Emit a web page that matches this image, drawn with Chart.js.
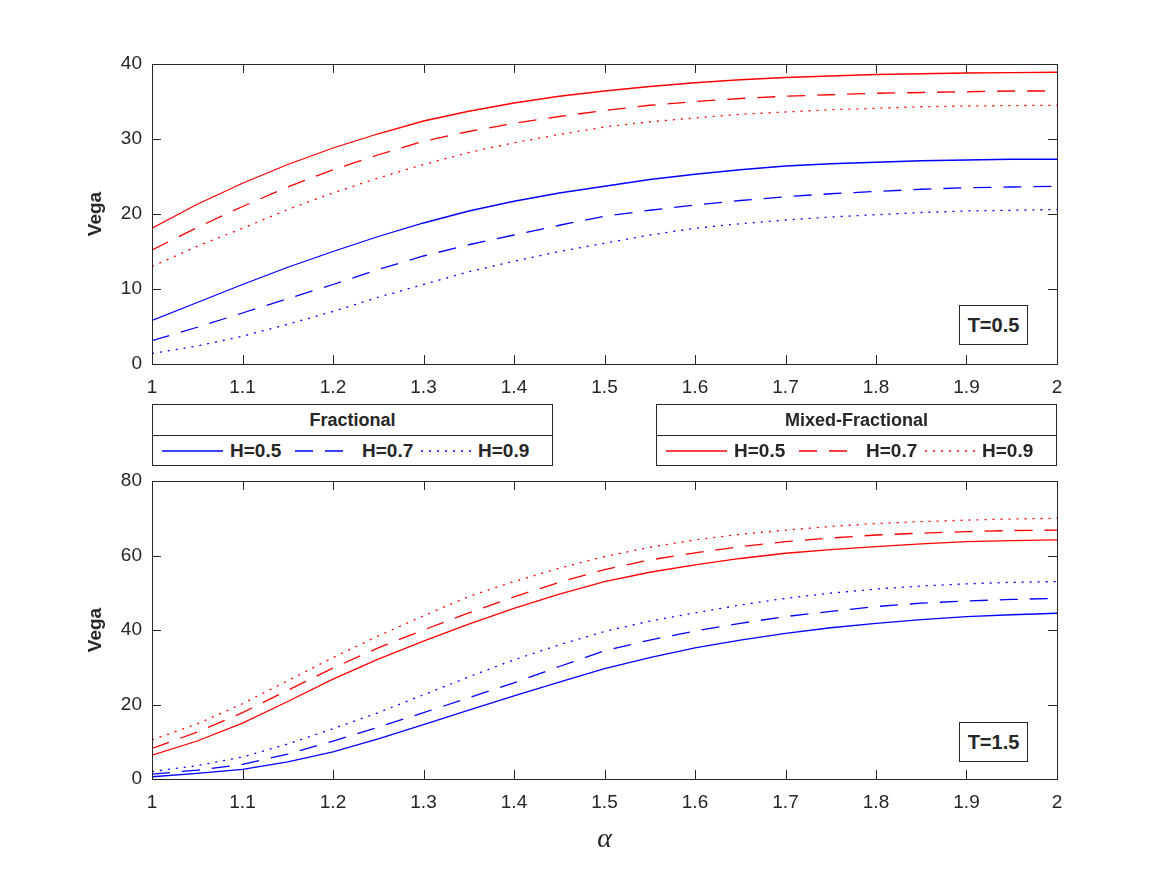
<!DOCTYPE html>
<html>
<head>
<meta charset="utf-8">
<script src="https://cdn.jsdelivr.net/npm/chart.js@4.4.1/dist/chart.umd.min.js"></script>
<style>
    body { margin: 0; background: #fff; }
    #page { position: relative; width: 1167px; height: 875px; font-family: "Liberation Sans", Arial, sans-serif; color: #262626; }
    .plot { position: absolute; left: 0; }
    .legend-box { position: absolute; top: 404px; width: 401px; height: 62px; border: 1px solid #262626; background: #fff; box-sizing: border-box; }
    .legend-title { position: absolute; left: 0; right: 0; top: 0; height: 30px; line-height: 30px; text-align: center; font-weight: bold; font-size: 18px; border-bottom: 1px solid #262626; }
    .legend-item-line { position: absolute; top: 44px; }
    .legend-item-text { position: absolute; top: 32px; line-height: 28px; font-weight: bold; font-size: 19px; }
    .tbox { position: absolute; left: 959px; width: 69px; height: 40px; border: 1px solid #262626; background: #fff; box-sizing: border-box; text-align: center; line-height: 38px; font-weight: bold; font-size: 20px; }
</style>
</head>
<body>
<div id="page">
    <div class="plot" style="top:0"><canvas id="chartTop" width="1167" height="400"></canvas></div>
    <div class="plot" style="top:440px"><canvas id="chartBottom" width="1167" height="435"></canvas></div>
    <div id="legends"></div>
    <div class="tbox" style="top:305px">T=0.5</div>
    <div class="tbox" style="top:722px">T=1.5</div>
</div>
<script>
const ALPHA = [1, 1.05, 1.1, 1.15, 1.2, 1.25, 1.3, 1.35, 1.4, 1.45, 1.5,
               1.55, 1.6, 1.65, 1.7, 1.75, 1.8, 1.85, 1.9, 1.95, 2];
const X_TICKS = [1, 1.1, 1.2, 1.3, 1.4, 1.5, 1.6, 1.7, 1.8, 1.9, 2];
const Y_TICKS_TOP = [0, 10, 20, 30, 40];
const Y_TICKS_BOTTOM = [0, 20, 40, 60, 80];
const H_LABELS = ['H=0.5', 'H=0.7', 'H=0.9'];

// T = 0.5, fractional (blue)
const FRAC_T05_H5 = [5.8, 8.2, 10.6, 12.9, 15.0, 17.0, 18.8, 20.4, 21.7, 22.8, 23.7, 24.6, 25.3, 25.9, 26.4, 26.7, 26.9, 27.1, 27.2, 27.3, 27.3];
const FRAC_T05_H7 = [3.1, 4.9, 6.8, 8.7, 10.6, 12.6, 14.4, 15.9, 17.2, 18.5, 19.7, 20.5, 21.2, 21.8, 22.3, 22.7, 23.0, 23.3, 23.5, 23.6, 23.7];
const FRAC_T05_H9 = [1.4, 2.4, 3.7, 5.3, 7.0, 8.9, 10.6, 12.3, 13.7, 15.0, 16.1, 17.2, 18.1, 18.7, 19.2, 19.6, 19.9, 20.2, 20.4, 20.5, 20.6];
// T = 0.5, mixed-fractional (red)
const MIXED_T05_H5 = [18.1, 21.3, 24.1, 26.6, 28.8, 30.7, 32.4, 33.7, 34.8, 35.7, 36.4, 37.0, 37.5, 37.9, 38.2, 38.4, 38.6, 38.7, 38.8, 38.85, 38.9];
const MIXED_T05_H7 = [15.2, 18.2, 21.0, 23.6, 25.9, 27.9, 29.7, 31.0, 32.1, 33.0, 33.8, 34.5, 35.0, 35.4, 35.7, 35.9, 36.1, 36.2, 36.3, 36.4, 36.4];
const MIXED_T05_H9 = [13.0, 15.7, 18.1, 20.6, 22.8, 24.8, 26.6, 28.2, 29.5, 30.6, 31.6, 32.3, 32.8, 33.3, 33.6, 33.9, 34.1, 34.3, 34.4, 34.45, 34.5];

// T = 1.5, fractional (blue)
const FRAC_T15_H5 = [0.6, 1.5, 2.6, 4.6, 7.3, 10.8, 14.6, 18.5, 22.3, 26.0, 29.6, 32.6, 35.2, 37.3, 39.1, 40.6, 41.8, 42.8, 43.6, 44.1, 44.5];
const FRAC_T15_H7 = [1.3, 2.4, 3.9, 6.7, 10.2, 13.9, 17.8, 21.8, 25.8, 30.2, 34.4, 37.3, 39.7, 41.8, 43.6, 45.0, 46.3, 47.2, 47.8, 48.2, 48.5];
const FRAC_T15_H9 = [2.0, 3.6, 5.9, 9.4, 13.5, 17.8, 22.6, 27.4, 32.0, 36.0, 39.6, 42.4, 44.6, 46.7, 48.5, 49.9, 51.0, 51.8, 52.4, 52.8, 53.0];
// T = 1.5, mixed-fractional (red)
const MIXED_T15_H5 = [6.4, 10.2, 15.0, 20.8, 26.8, 32.2, 37.0, 41.6, 45.8, 49.6, 53.0, 55.5, 57.5, 59.2, 60.6, 61.6, 62.4, 63.1, 63.7, 64.0, 64.2];
const MIXED_T15_H7 = [8.2, 12.6, 17.8, 23.8, 29.8, 35.2, 40.0, 44.6, 48.9, 52.8, 56.2, 58.8, 60.7, 62.4, 63.7, 64.7, 65.5, 66.0, 66.4, 66.7, 66.8];
const MIXED_T15_H9 = [10.5, 14.8, 20.2, 26.4, 32.6, 38.4, 43.8, 49.0, 53.0, 56.6, 59.7, 62.2, 64.2, 65.7, 66.8, 67.8, 68.6, 69.1, 69.5, 69.8, 70.0];

const BLUE = '#0000ff';
const RED = '#ff0000';
const AXIS_COLOR = '#262626';
const DASHES = [[], [18, 12], [2, 6]];
const FONT = '"Liberation Sans", Arial, sans-serif';

// MATLAB-like box with inward ticks on all four sides
const boxAxes = {
    id: 'boxAxes',
    afterDatasetsDraw(chart) {
        const { ctx, chartArea: a, scales: { x, y } } = chart;
        const len = 9;
        ctx.save();
        ctx.strokeStyle = AXIS_COLOR;
        ctx.lineWidth = 1;
        ctx.beginPath();
        x.ticks.forEach(t => {
            const px = Math.round(x.getPixelForValue(t.value)) + 0.5;
            ctx.moveTo(px, a.bottom); ctx.lineTo(px, a.bottom - len);
            ctx.moveTo(px, a.top); ctx.lineTo(px, a.top + len);
        });
        y.ticks.forEach(t => {
            const py = Math.round(y.getPixelForValue(t.value)) + 0.5;
            ctx.moveTo(a.left, py); ctx.lineTo(a.left + len, py);
            ctx.moveTo(a.right, py); ctx.lineTo(a.right - len, py);
        });
        ctx.stroke();
        ctx.strokeRect(Math.round(a.left) + 0.5, Math.round(a.top) + 0.5,
            Math.round(a.right - a.left), Math.round(a.bottom - a.top));
        ctx.restore();
    }
};

function makeDatasets(frac, mixed) {
    const sets = [];
    [[frac, BLUE], [mixed, RED]].forEach(([group, color]) => {
        group.forEach((vals, i) => {
            sets.push({
                label: H_LABELS[i],
                data: vals.map((v, k) => ({ x: ALPHA[k], y: v })),
                borderColor: color,
                borderWidth: 1.3,
                borderDash: DASHES[i],
                pointRadius: 0,
                fill: false,
                tension: 0
            });
        });
    });
    return sets;
}

function makeChart(id, frac, mixed, yTicks, opts) {
    return new Chart(document.getElementById(id), {
        type: 'line',
        data: { datasets: makeDatasets(frac, mixed) },
        options: {
            responsive: false,
            animation: false,
            layout: { padding: { top: opts.padTop, left: 80, right: 110, bottom: 0 } },
            plugins: { legend: { display: false }, tooltip: { enabled: false } },
            scales: {
                x: {
                    type: 'linear',
                    min: 1, max: 2,
                    afterBuildTicks: s => { s.ticks = X_TICKS.map(v => ({ value: v })); },
                    afterFit: s => { s.height = opts.xHeight; },
                    grid: { display: false, drawTicks: false },
                    border: { display: false },
                    ticks: {
                        color: AXIS_COLOR, padding: 12,
                        font: { family: FONT, size: 19 },
                        maxRotation: 0,
                        callback: v => String(v)
                    },
                    title: opts.xTitle ? {
                        display: true, text: 'α', color: AXIS_COLOR,
                        font: { family: '"Liberation Serif", "DejaVu Serif", serif', size: 28, style: 'italic' },
                        padding: { top: 0, bottom: 19 }
                    } : { display: false }
                },
                y: {
                    type: 'linear',
                    min: yTicks[0], max: yTicks[yTicks.length - 1],
                    afterBuildTicks: s => { s.ticks = yTicks.map(v => ({ value: v })); },
                    afterFit: s => { s.width = 72; },
                    grid: { display: false, drawTicks: false },
                    border: { display: false },
                    ticks: {
                        color: AXIS_COLOR, padding: 10,
                        font: { family: FONT, size: 19 }
                    },
                    title: {
                        display: true, text: 'Vega', color: AXIS_COLOR,
                        font: { family: FONT, size: 19, weight: 'bold' },
                        padding: { top: 4, bottom: 4 }
                    }
                }
            }
        },
        plugins: [boxAxes]
    });
}

makeChart('chartTop', [FRAC_T05_H5, FRAC_T05_H7, FRAC_T05_H9], [MIXED_T05_H5, MIXED_T05_H7, MIXED_T05_H9],
    Y_TICKS_TOP, { padTop: 64, xHeight: 36, xTitle: false });
makeChart('chartBottom', [FRAC_T15_H5, FRAC_T15_H7, FRAC_T15_H9], [MIXED_T15_H5, MIXED_T15_H7, MIXED_T15_H9],
    Y_TICKS_BOTTOM, { padTop: 41, xHeight: 96, xTitle: true });

// legend boxes between the two plots
const LEGENDS = [
    { title: 'Fractional', color: BLUE, left: 152 },
    { title: 'Mixed-Fractional', color: RED, left: 656 }
];
const LINE_X = [9, 142, 268];
const LINE_W = [61, 52, 54];
const TEXT_X = [77, 209, 325];
const legendsEl = document.getElementById('legends');
LEGENDS.forEach(lg => {
    const box = document.createElement('div');
    box.className = 'legend-box';
    box.style.left = lg.left + 'px';
    let html = `<div class="legend-title">${lg.title}</div>`;
    H_LABELS.forEach((lab, i) => {
        const dash = DASHES[i].length ? `stroke-dasharray="${DASHES[i].join(' ')}"` : '';
        html += `<svg class="legend-item-line" style="left:${LINE_X[i]}px" width="${LINE_W[i]}" height="4">
            <line x1="0" y1="2" x2="${LINE_W[i]}" y2="2" stroke="${lg.color}" stroke-width="1.3" ${dash}/></svg>`;
        html += `<span class="legend-item-text" style="left:${TEXT_X[i]}px">${lab}</span>`;
    });
    box.innerHTML = html;
    legendsEl.appendChild(box);
});
</script>
</body>
</html>
